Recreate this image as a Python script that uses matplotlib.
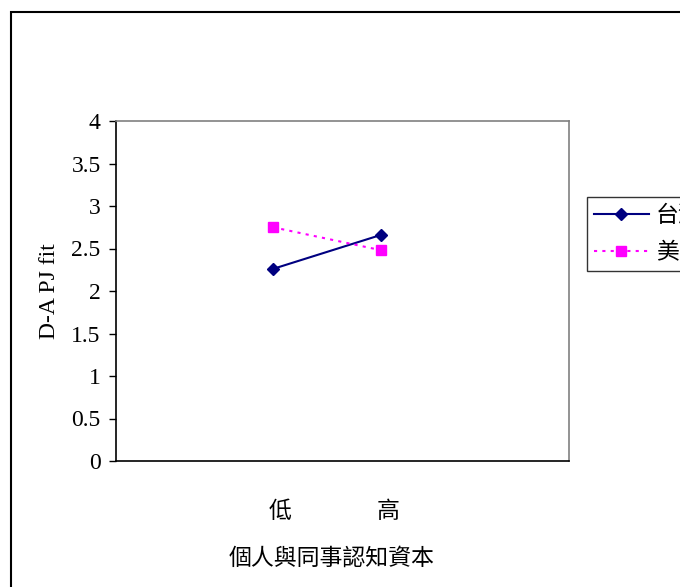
import matplotlib
matplotlib.use("Agg")
import matplotlib.pyplot as plt
from matplotlib.patches import Rectangle
from matplotlib.transforms import ScaledTranslation

# 資料
categories = ['低', '高']
taiwan = [2.26, 2.66]
usa = [2.75, 2.48]
series_names = ['台灣', '美國']
yticks = [0, 0.5, 1, 1.5, 2, 2.5, 3, 3.5, 4]

cjk = ['Noto Sans CJK TC', 'DejaVu Sans']
serif = ['Liberation Serif', 'DejaVu Serif']

fig = plt.figure(figsize=(6.8, 5.87), dpi=100)
ax = fig.add_axes([116 / 680, 1 - 461 / 587, 453 / 680, 340 / 587])

x = list(range(len(categories)))
ax.plot(x, taiwan, color='#000080', lw=1.5, marker='D', markersize=6.5,
        label=series_names[0])
ax.plot(x, usa, color='#FF00FF', lw=1.5, ls=(0, (1.5, 2.5)), marker='s',
        markersize=6.5, label=series_names[1])

ax.set_xlim(-1.454, 2.741)
ax.set_ylim(0, 4)
ax.set_yticks(yticks)
ax.set_yticklabels([f'{v:g}' for v in yticks], family=serif, fontsize=17)
ax.tick_params(axis='y', length=5, width=1, pad=6, direction='out')

ax.set_xticks(x)
ax.set_xticklabels(categories, family=cjk, fontsize=16.5)
ax.tick_params(axis='x', length=0, pad=28)
for lbl in ax.get_xticklabels():
    lbl.set_transform(lbl.get_transform() + ScaledTranslation(0.07, 0, fig.dpi_scale_trans))

ax.set_ylabel('D-A PJ fit', family=serif, fontsize=17, labelpad=8)

# 座標框線
ax.spines['left'].set_color('black')
ax.spines['bottom'].set_color('black')
ax.spines['top'].set_color('#808080')
ax.spines['right'].set_color('#808080')
for s in ax.spines.values():
    s.set_linewidth(1.2)

fig.text(332 / 680, 1 - 558 / 587, '個人與同事認知資本', family=cjk, fontsize=16.5,
         ha='center', va='center')

leg = fig.legend(loc='upper left', bbox_to_anchor=(587 / 680, 1 - 197 / 587),
                 prop={'family': cjk, 'size': 16.5}, frameon=True, fancybox=False,
                 edgecolor='black', handlelength=2.4, borderpad=0.3,
                 labelspacing=0.62, handletextpad=0.3, borderaxespad=0)
leg.get_frame().set_linewidth(1.0)

# 外框
fig.patches.append(Rectangle((11 / 680, -0.1), 2, 1.1 - 12 / 587,
                             transform=fig.transFigure, fill=False,
                             edgecolor='black', lw=1.5))

fig.savefig('out.png', dpi=100)
